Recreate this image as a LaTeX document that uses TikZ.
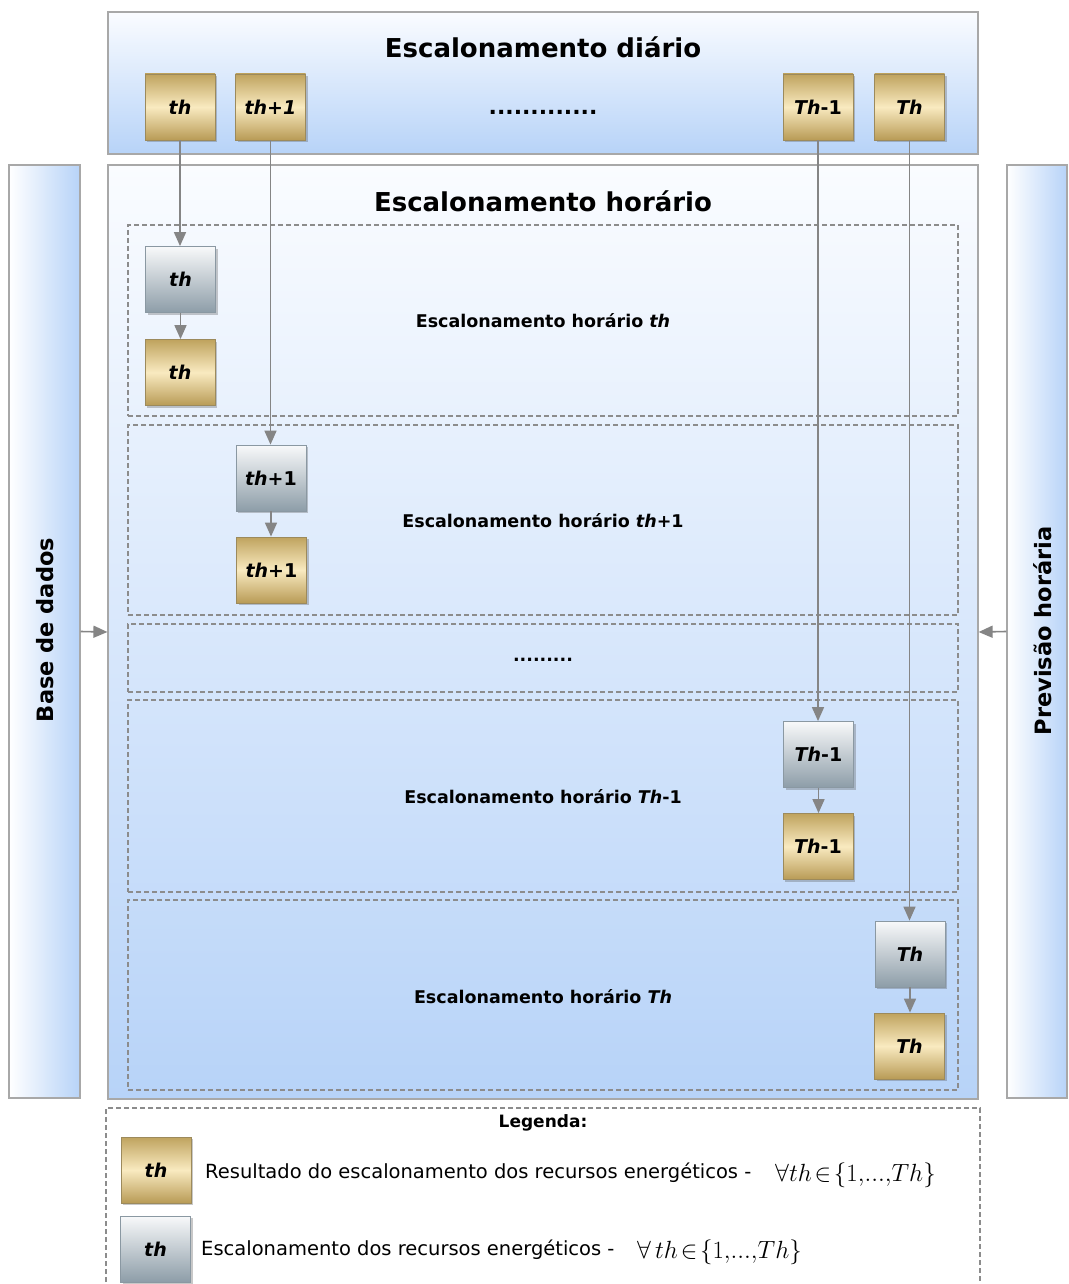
\documentclass[tikz,border=0pt]{standalone}
\usepackage{fontspec}
\setmainfont{DejaVu Sans}
\usetikzlibrary{shadows,arrows.meta}
\definecolor{gtop}{HTML}{BFA35E}
\definecolor{gmid}{HTML}{F9EAC0}
\definecolor{gbot}{HTML}{B89B56}
\definecolor{gborder}{HTML}{9C8A5C}
\definecolor{stop}{HTML}{F8F9FA}
\definecolor{sbot}{HTML}{8D9DA8}
\definecolor{sborder}{HTML}{8A98A2}
\definecolor{pblue}{HTML}{B7D3F8}
\definecolor{ptop}{HTML}{FAFCFF}
\definecolor{pborder}{HTML}{A8A8A8}
\definecolor{dashc}{HTML}{8C8C8C}
\definecolor{arrc}{HTML}{858585}
\tikzset{
  sq/.style={minimum width=70, minimum height=66, inner sep=0,
    font=\bfseries\fontsize{19}{22}\selectfont,
    drop shadow={shadow xshift=2pt, shadow yshift=-2pt, opacity=0.3, fill=black!70}},
  goldbox/.style={sq, draw=gborder, line width=0.8, top color=gtop, bottom color=gbot, middle color=gmid},
  graybox/.style={sq, draw=sborder, line width=0.8, top color=stop, bottom color=sbot},
  panel/.style={draw=pborder, line width=1.2, inner sep=0},
  dbox/.style={draw=dashc, line width=1.5, dash pattern=on 5pt off 3pt, inner sep=0, minimum width=830},
  title/.style={font=\bfseries\fontsize{26}{30}\selectfont},
  sublab/.style={font=\bfseries\fontsize{17.5}{21}\selectfont},
  sidelab/.style={font=\bfseries\fontsize{22.5}{26}\selectfont, rotate=90},
  arr/.style={draw=arrc, line width=1.6, -{Triangle[length=14, width=12]}},
  legtxt/.style={font=\fontsize{19.5}{23}\selectfont, anchor=west, inner sep=0},
  legmath/.style={font=\fontsize{23}{27}\selectfont, anchor=west, inner sep=0},
}
\begin{document}
\begin{tikzpicture}[x=1pt,y=-1pt]
\useasboundingbox (0,0) rectangle (1068,1284);
\fill[white] (0,0) rectangle (1068,1284);

% panels
\node[panel, top color=ptop, bottom color=pblue, minimum width=870, minimum height=142] (daily) at (543,83) {};
\node[title] (dailyT) at (543,47) {Escalonamento diário};
\node[panel, top color=ptop, bottom color=pblue, minimum width=870, minimum height=934] (main) at (543,632) {};
\node[title] (mainT) at (543,201) {Escalonamento horário};
\node[panel, left color=white, right color=pblue, minimum width=71, minimum height=933] (base) at (44.5,631.5) {};
\node[sidelab] (baseT) at (45,630) {Base de dados};
\node[panel, left color=white, right color=pblue, minimum width=60, minimum height=933] (prev) at (1037,631.5) {};
\node[sidelab] (prevT) at (1043,631) {Previsão horária};

% dashed sub boxes
\node[dbox, minimum height=191] (d1) at (543,320.5) {};
\node[dbox, minimum height=190] (d2) at (543,520) {};
\node[dbox, minimum height=68] (d3) at (543,658) {};
\node[dbox, minimum height=192] (d4) at (543,796) {};
\node[dbox, minimum height=190] (d5) at (543,995) {};
\node[sublab] (l1) at (543,321) {Escalonamento horário \textit{th}};
\node[sublab] (l2) at (543,521) {Escalonamento horário \textit{th}+1};
\node[sublab] (l3) at (543,660) {.........};
\node[sublab] (l4) at (543,797) {Escalonamento horário \textit{Th}-1};
\node[sublab] (l5) at (543,997) {Escalonamento horário \textit{Th}};

% daily boxes
\node[goldbox] (tg1) at (180,107) {\textit{th}};
\node[goldbox] (tg2) at (270.5,107) {\textit{th+1}};
\node[goldbox] (tg3) at (818,107) {\textit{Th}-1};
\node[goldbox] (tg4) at (909.5,107) {\textit{Th}};
\node[font=\bfseries\fontsize{22}{26}\selectfont] (dots) at (543,112) {.............};

% hourly boxes
\node[graybox] (hs1) at (180.5,279.5) {\textit{th}};
\node[goldbox] (hr1) at (180,372.5) {\textit{th}};
\node[graybox] (hs2) at (271,478) {\textit{th}+1};
\node[goldbox] (hr2) at (271.5,570) {\textit{th}+1};
\node[graybox] (hs3) at (818.5,754.5) {\textit{Th}-1};
\node[goldbox] (hr3) at (818,846.5) {\textit{Th}-1};
\node[graybox] (hs4) at (910,954) {\textit{Th}};
\node[goldbox] (hr4) at (909.5,1046) {\textit{Th}};

% arrows
\draw[arr] (tg1.south) -- (tg1.south |- hs1.north);
\draw[arr] (tg2.south) -- (tg2.south |- hs2.north);
\draw[arr] (tg3.south) -- (tg3.south |- hs3.north);
\draw[arr] (tg4.south) -- (tg4.south |- hs4.north);
\draw[arr] (hs1.south) -- (hs1.south |- hr1.north);
\draw[arr] (hs2.south) -- (hs2.south |- hr2.north);
\draw[arr] (hs3.south) -- (hs3.south |- hr3.north);
\draw[arr] (hs4.south) -- (hs4.south |- hr4.north);
\draw[arr] (base.east) -- (main.west);
\draw[arr] (prev.west) -- (main.east);

% legend
\draw[draw=dashc, line width=1.5, dash pattern=on 5pt off 3pt] (106,1290) |- (980,1108) -- (980,1290);
\node[font=\bfseries\fontsize{17}{20}\selectfont] (legT) at (543,1123) {Legenda:};
\node[goldbox] (lg) at (156,1170) {\textit{th}};
\node[graybox] (ls) at (155.5,1249) {\textit{th}};
\node[legtxt] (lgT) at (205,1173) {Resultado do escalonamento dos recursos energéticos -};
\node[legmath] (lgM) at (775,1175) {$\forall th\!\in\!\Big\{1,\!...,\!Th\Big\}$};
\node[legtxt] (lsT) at (201,1250) {Escalonamento dos recursos energéticos -};
\node[legmath] (lsM) at (637,1252) {$\forall\, th\!\in\!\Big\{1,\!...,\!Th\Big\}$};
\end{tikzpicture}
\end{document}
